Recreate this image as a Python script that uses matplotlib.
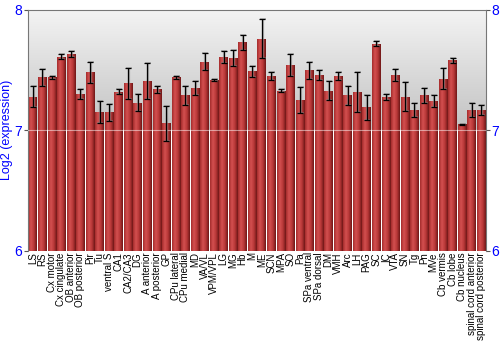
import numpy as np
import matplotlib
matplotlib.use('agg')
import matplotlib.pyplot as plt
from matplotlib.colors import LinearSegmentedColormap

regions = ["LS", "RS", "Cx motor", "Cx cingulate", "OB anterior", "OB posterior", "Pir", "Tu",
           "ventral S", "CA1", "CA2/CA3", "DG", "A anterior", "A posterior", "GP", "CPu lateral",
           "CPu medial", "MD", "VA/VL", "VPM/VPL", "LG", "MG", "Hb", "M", "ME", "SCN", "MPA", "SO",
           "Pa", "SPa ventral", "SPa dorsal", "DM", "VMH", "Arc", "LH", "PAG", "SC", "IC", "VTA",
           "SN", "Tg", "Pn", "MVe", "Cb vermis", "Cb lobe", "Cb nucleus",
           "spinal cord anterior", "spinal cord posterior"]
expr = [7.28, 7.44, 7.44, 7.61, 7.63, 7.30, 7.48, 7.15, 7.15, 7.32, 7.39, 7.23, 7.41, 7.34, 7.06,
        7.44, 7.29, 7.35, 7.57, 7.42, 7.61, 7.60, 7.73, 7.49, 7.76, 7.45, 7.33, 7.54, 7.25, 7.50,
        7.46, 7.33, 7.45, 7.29, 7.32, 7.19, 7.72, 7.28, 7.46, 7.28, 7.17, 7.29, 7.24, 7.43, 7.58,
        7.05, 7.17, 7.17]
err = [0.09, 0.07, 0.01, 0.02, 0.025, 0.04, 0.09, 0.09, 0.07, 0.02, 0.13, 0.07, 0.15, 0.03, 0.145,
       0.015, 0.08, 0.06, 0.07, 0.01, 0.05, 0.065, 0.065, 0.045, 0.16, 0.035, 0.01, 0.09, 0.11, 0.07,
       0.04, 0.08, 0.035, 0.08, 0.165, 0.1, 0.02, 0.025, 0.05, 0.12, 0.06, 0.06, 0.05, 0.09, 0.02,
       0.005, 0.06, 0.04]

plt.rcParams['font.family'] = ['Liberation Sans', 'DejaVu Sans']
blue = '#0000ff'
fig = plt.figure(figsize=(5, 3.5), dpi=100)
ax = fig.add_axes([0.056, 0.283, 0.916, 0.689])
x = np.arange(len(regions))
n = len(regions)
ax.set_xlim(-0.5, n - 0.5)
ax.set_ylim(6, 8)

# background: white below 7, grey at 7 fading to light grey at 8
bg = LinearSegmentedColormap.from_list('bg', [(0, '#ffffff'), (0.499, '#ffffff'),
                                              (0.5, '#c2c2c2'), (1, '#f4f4f4')])
grad = np.linspace(0, 1, 512).reshape(-1, 1)
ax.imshow(grad, cmap=bg, aspect='auto', extent=(-0.5, n - 0.5, 6, 8), origin='lower',
          zorder=0, interpolation='bilinear')

bars = ax.bar(x, np.array(expr) - 6, bottom=6, width=0.9, color='#b03030',
              edgecolor='none', zorder=2)
barmap = LinearSegmentedColormap.from_list('bar', ['#a42c2c', '#d45050', '#b83838', '#6e1616'])
hgrad = np.linspace(0, 1, 64).reshape(1, -1)
for b in bars:
    x0, w = b.get_x(), b.get_width()
    im = ax.imshow(hgrad, cmap=barmap, aspect='auto', extent=(x0, x0 + w, 6, b.get_height() + 6),
                   zorder=2, interpolation='bilinear')
    im.set_clip_path(b)

ax.axhline(7, color='white', lw=0.8, alpha=0.5, zorder=3)
ax.errorbar(x + 0.08, expr, yerr=err, fmt='none', ecolor='#888888', elinewidth=1.6,
            capsize=2, capthick=1.2, zorder=3, alpha=0.6)
ax.errorbar(x, expr, yerr=err, fmt='none', ecolor='black', elinewidth=0.9,
            capsize=2, capthick=0.9, zorder=4)

ax.set_yticks([6, 7, 8])
ax.tick_params(axis='y', colors='#555555', labelcolor=blue, labelsize=10, length=3,
               right=True, labelright=True, pad=1)
ax.set_xticks(x)
ax.set_xticklabels(regions, rotation=90, fontsize=7)
ax.tick_params(axis='x', length=0, pad=1)
ax.set_ylabel('Log2 (expression)', color=blue, fontsize=9, labelpad=1)
for s in ['top', 'right', 'left']:
    ax.spines[s].set_color('#777777')
ax.spines['bottom'].set_visible(False)

fig.savefig('out.png', dpi=100)
